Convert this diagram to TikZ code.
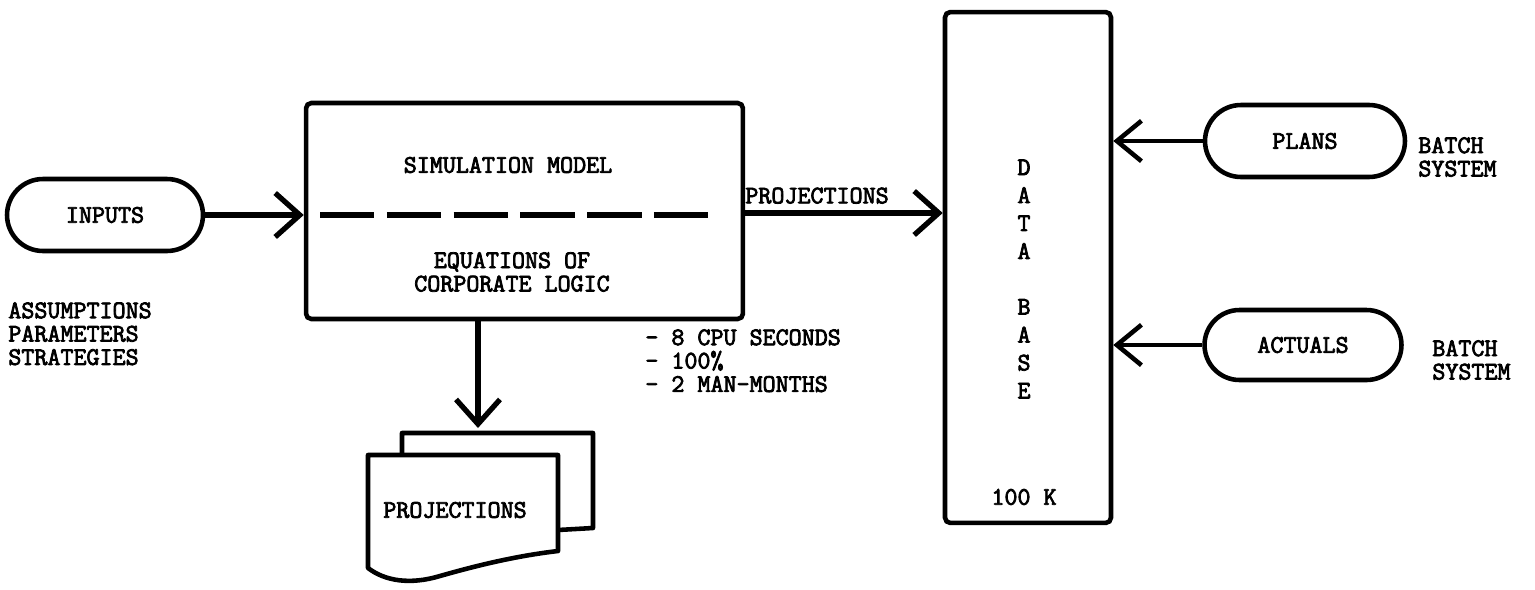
\documentclass[tikz,border=0pt]{standalone}
\usepackage{fontspec}
\setmonofont{Latin Modern Mono}[AutoFakeBold=3]
\usetikzlibrary{arrows.meta,shapes.misc}
\tikzset{
  txt/.style={font=\ttfamily\bfseries\fontsize{14.4}{13.3}\selectfont, inner sep=0pt},
  term/.style={rounded rectangle, draw, line width=2.6pt, txt},
  blockbox/.style={draw, rectangle, line width=2.6pt, rounded corners=3pt},
  arr/.style={line width=3pt, -{Straight Barb[length=14pt,width=25pt,line width=3pt]}},
  thinarr/.style={line width=2.4pt, -{Straight Barb[length=14pt,width=23pt,line width=2.6pt]}},
  docline/.style={line width=2.6pt, line join=round},
}
\begin{document}
\begin{tikzpicture}[x=0.02cm,y=-0.02cm]
\useasboundingbox (0,0) rectangle (1535,589);

% nodes
\node[term, minimum width=3.92cm, minimum height=1.44cm] (inputs) at (105,215) {INPUTS};
\node[blockbox, minimum width=8.74cm, minimum height=4.32cm] (sim) at (524.5,211) {};
\node[blockbox, minimum width=3.32cm, minimum height=10.22cm] (db) at (1028,267.5) {};
\node[term, minimum width=4.0cm, minimum height=1.44cm] (plans) at (1305,141) {PLANS};
\node[term, minimum width=3.94cm, minimum height=1.4cm] (actuals) at (1303,345) {ACTUALS};

% texts in simulation box
\node[txt] (simtitle) at (508,165) {SIMULATION MODEL};
\draw[line width=3pt, dash pattern=on 31pt off 7pt] (320,215) -- (710,215);
\node[txt, align=center] (eqs) at (512,272) {EQUATIONS OF\\CORPORATE LOGIC};

% data base letters
\node[txt, align=center] (dbtext) at (1024,279) {D\\[2.6pt]A\\[2.6pt]T\\[2.6pt]A\\[18.4pt]B\\[2.6pt]A\\[2.6pt]S\\[2.6pt]E};
\node[txt] (dbsize) at (1024,497) {100 K};

% side texts
\node[txt, align=left, anchor=north west] (assum) at (8,302) {ASSUMPTIONS\\PARAMETERS\\STRATEGIES};
\node[txt, align=left, anchor=north west] (costs) at (645,329) {- 8 CPU SECONDS\\- 100\%\\- 2 MAN-MONTHS};
\node[txt, align=left, anchor=west] (batch1) at (1418,157) {BATCH\\SYSTEM};
\node[txt, align=left, anchor=west] (batch2) at (1432,360) {BATCH\\SYSTEM};
\node[txt, anchor=south west] (projlabel) at (745,204) {PROJECTIONS};

% connectors
\draw[arr] (inputs.east) -- (inputs.east -| sim.west);
\draw[arr] (sim.east |- 0,213) -- (db.west |- 0,213);
\draw[thinarr] (plans.west) -- (plans.west -| db.east);
\draw[thinarr] (actuals.west) -- (actuals.west -| db.east);
\coordinate (dtip) at (478,428);
\draw[arr] (sim.south -| dtip) -- (dtip);

% document shapes
\draw[docline] (402,455) -- (402,433) -- (593,433) -- (593,528) -- (558,530);
\draw[docline, fill=white] (368,455) -- (558,455) -- (558,551)
   .. controls (515,556) and (475,566) .. (440,576)
   .. controls (410,585) and (385,581) .. (368,568) -- cycle;
\node[txt] (projdoc) at (455,510) {PROJECTIONS};
\end{tikzpicture}
\end{document}
